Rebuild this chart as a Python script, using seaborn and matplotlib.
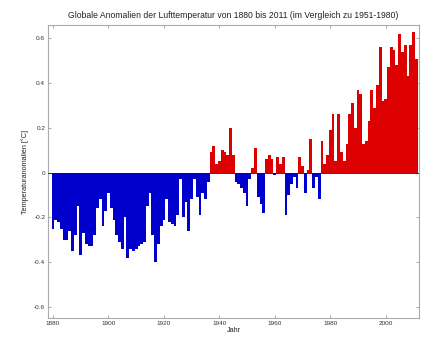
import numpy as np
import pandas as pd
import matplotlib
matplotlib.use("Agg")
import matplotlib.pyplot as plt
import seaborn as sns

# =====================================
# DATA
# =====================================

years = list(range(1880, 2012))

anom_1880s = [-0.25, -0.21, -0.22, -0.25, -0.30, -0.30, -0.26, -0.35, -0.28, -0.15]
anom_1890s = [-0.37, -0.27, -0.32, -0.33, -0.33, -0.28, -0.16, -0.12, -0.24, -0.17]
anom_1900s = [-0.09, -0.16, -0.21, -0.28, -0.31, -0.34, -0.20, -0.38, -0.34, -0.35]
anom_1910s = [-0.34, -0.33, -0.32, -0.31, -0.15, -0.09, -0.28, -0.40, -0.32, -0.24]
anom_1920s = [-0.21, -0.12, -0.22, -0.23, -0.24, -0.19, -0.03, -0.20, -0.13, -0.26]
anom_1930s = [-0.12, -0.03, -0.11, -0.19, -0.09, -0.12, -0.04, 0.09, 0.12, 0.04]
anom_1940s = [0.05, 0.10, 0.09, 0.08, 0.20, 0.08, -0.04, -0.05, -0.07, -0.09]
anom_1950s = [-0.15, -0.03, 0.02, 0.11, -0.11, -0.14, -0.18, 0.06, 0.08, 0.06]
anom_1960s = [-0.01, 0.07, 0.04, 0.07, -0.19, -0.10, -0.05, -0.02, -0.07, 0.07]
anom_1970s = [0.03, -0.09, 0.01, 0.15, -0.07, -0.02, -0.12, 0.14, 0.04, 0.08]
anom_1980s = [0.19, 0.26, 0.05, 0.26, 0.09, 0.05, 0.13, 0.26, 0.31, 0.20]
anom_1990s = [0.37, 0.35, 0.13, 0.14, 0.23, 0.37, 0.29, 0.39, 0.56, 0.32]
anom_2000s = [0.33, 0.47, 0.56, 0.55, 0.48, 0.62, 0.54, 0.57, 0.43, 0.57]
anom_2010s = [0.63, 0.51]

anomalies = (anom_1880s + anom_1890s + anom_1900s + anom_1910s + anom_1920s
             + anom_1930s + anom_1940s + anom_1950s + anom_1960s + anom_1970s
             + anom_1980s + anom_1990s + anom_2000s + anom_2010s)

y_ticks = [-0.6, -0.4, -0.2, 0, 0.2, 0.4, 0.6]
y_tick_labels = ["-0.6", "-0.4", "-0.2", "0", "0.2", "0.4", "0.6"]
x_ticks = [1880, 1900, 1920, 1940, 1960, 1980, 2000]

df = pd.DataFrame({"Jahr": years, "Anomalie": anomalies})
df["Vorzeichen"] = np.where(df["Anomalie"] >= 0, "warm", "kalt")

# =====================================
# PLOT
# =====================================

sns.set_style("white")
plt.rcParams["font.family"] = ["Liberation Sans", "DejaVu Sans"]

fig = plt.figure(figsize=(4.23, 3.41), dpi=100)
ax = fig.add_axes([0.1135, 0.0674, 0.877, 0.8593])

sns.barplot(
    data=df,
    x="Jahr",
    y="Anomalie",
    hue="Vorzeichen",
    palette={"warm": "#dd0000", "kalt": "#0000cc"},
    saturation=1,
    native_scale=True,
    dodge=False,
    width=1.0,
    linewidth=0,
    legend=False,
    ax=ax
)

ax.axhline(0, color="#0000cc", linewidth=0.6, zorder=3)

ax.set_xlim(1878.2, 2012)
ax.set_ylim(-0.65, 0.66)
ax.set_xticks(x_ticks)
ax.set_xticklabels([str(t) for t in x_ticks])
ax.set_yticks(y_ticks)
ax.set_yticklabels(y_tick_labels)

ax.tick_params(
    direction="in", length=2, width=0.5, colors="#888888",
    labelcolor="#333333", labelsize=4.6,
    top=True, right=True, bottom=True, left=True, pad=2
)

for spine in ax.spines.values():
    spine.set_color("#aaaaaa")
    spine.set_linewidth(0.8)

ax.set_title(
    "Globale Anomalien der Lufttemperatur von 1880 bis 2011 (im Vergleich zu 1951-1980)",
    fontsize=6.2, color="#222222", pad=5
)
ax.set_xlabel("Jahr", fontsize=5.2, color="#222222", labelpad=1)
ax.set_ylabel("Temperaturanomalien [°C]", fontsize=5.2, color="#222222", labelpad=4)

fig.savefig("out.png", dpi=100)
plt.close(fig)
